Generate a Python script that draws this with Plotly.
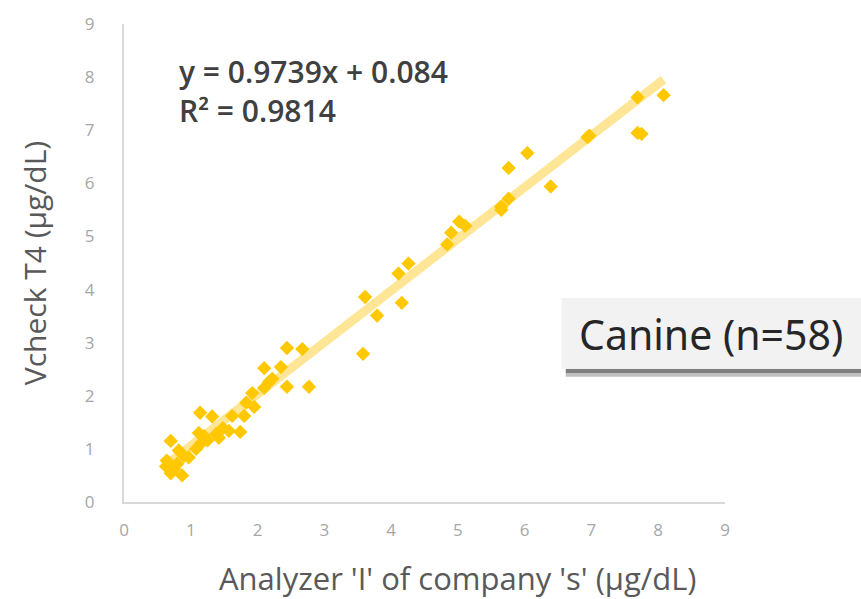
import plotly.graph_objects as go

analyzer_x = [7.69, 8.08, 7.69, 7.75, 6.94, 6.97, 6.04, 5.76, 6.39, 5.76,
              5.65, 5.65, 5.02, 5.11, 4.90, 4.84, 4.26, 4.11, 4.16, 3.61,
              3.79, 3.58, 2.44, 2.67, 2.10, 2.35, 2.77, 2.44, 2.17, 2.10,
              1.92, 1.83, 1.95, 1.62, 1.80, 1.14, 1.32, 1.12, 1.38, 1.42,
              1.57, 1.74, 1.15, 1.08, 0.70, 0.82, 0.97, 0.64, 0.63, 0.80,
              0.70, 0.87, 1.25, 1.48, 2.22, 0.90, 1.20, 0.75]
vcheck_y = [7.62, 7.66, 6.95, 6.93, 6.87, 6.90, 6.57, 6.29, 5.94, 5.71,
            5.56, 5.50, 5.28, 5.20, 5.07, 4.85, 4.49, 4.30, 3.75, 3.86,
            3.51, 2.79, 2.90, 2.88, 2.52, 2.54, 2.17, 2.17, 2.26, 2.15,
            2.05, 1.87, 1.79, 1.62, 1.62, 1.68, 1.61, 1.30, 1.28, 1.21,
            1.34, 1.32, 1.10, 1.00, 1.15, 0.97, 0.84, 0.78, 0.67, 0.72,
            0.54, 0.50, 1.16, 1.39, 2.32, 0.87, 1.24, 0.62]

slope = 0.9739
intercept = 0.084
trend_x = [min(analyzer_x), max(analyzer_x)]
trend_y = [slope * v + intercept for v in trend_x]

tick_vals = [0, 1, 2, 3, 4, 5, 6, 7, 8, 9]

fig = go.Figure()
fig.add_trace(go.Scatter(x=trend_x, y=trend_y, mode="lines",
                         line=dict(color="#FFE696", width=9),
                         hoverinfo="skip", showlegend=False))
fig.add_trace(go.Scatter(x=analyzer_x, y=vcheck_y, mode="markers",
                         marker=dict(symbol="diamond", size=11, color="#FFC800",
                                     line=dict(width=0)),
                         showlegend=False))

fig.update_layout(
    width=861, height=599,
    margin=dict(l=124, r=136, t=19, b=97),
    plot_bgcolor="white", paper_bgcolor="white",
    font=dict(family="Open Sans", color="#595959"),
    xaxis=dict(range=[0, 9], tickvals=tick_vals, showgrid=False, zeroline=False,
               showline=True, linecolor="#D9D9D9", linewidth=2,
               tickfont=dict(size=17, color="#A6A6A6"), ticks="", ticklabelstandoff=12),
    yaxis=dict(range=[0, 9], tickvals=tick_vals, showgrid=False, zeroline=False,
               showline=True, linecolor="#D9D9D9", linewidth=2,
               tickfont=dict(size=17, color="#A6A6A6"), ticks="", ticklabelstandoff=24,
               title=dict(text="Vcheck T4 (μg/dL)",
                          font=dict(size=30, color="#595959"), standoff=29)),
    annotations=[
        dict(xref="paper", yref="paper", x=0.555, y=-0.158, xanchor="center", yanchor="middle",
             text="Analyzer 'I' of company 's' (μg/dL)", showarrow=False,
             font=dict(family="Open Sans", size=31, color="#595959")),
        dict(xref="paper", yref="paper", x=0.088, y=0.948, xanchor="left", yanchor="top",
             text="y = 0.9739x + 0.084<br>R² = 0.9814", align="left",
             showarrow=False,
             font=dict(family="Open Sans", size=30, color="#404040", weight=600)),
        dict(xref="paper", yref="paper", x=1.2, y=0.352, xanchor="right", yanchor="middle",
             text="Canine (n=58)", showarrow=False,
             font=dict(family="Noto Sans", size=41, color="#262626")),
    ],
    shapes=[
        dict(type="rect", xref="paper", yref="paper", x0=0.735, x1=1.3, y0=0.262, y1=0.270,
             fillcolor="#BFBFBF", line=dict(width=0), layer="above"),
        dict(type="rect", xref="paper", yref="paper", x0=0.735, x1=1.3, y0=0.270, y1=0.279,
             fillcolor="#7F7F7F", line=dict(width=0), layer="above"),
        dict(type="rect", xref="paper", yref="paper", x0=0.728, x1=1.3, y0=0.279, y1=0.427,
             fillcolor="#F2F2F2", line=dict(width=0), layer="above"),
    ],
)
fig.write_html("out.html")
